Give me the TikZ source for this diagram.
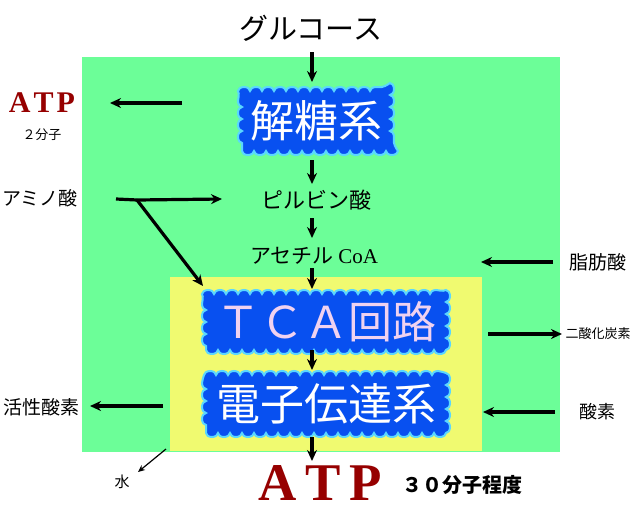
\documentclass[tikz,border=0pt]{standalone}
\usepackage{fontspec}
\setmainfont{Noto Sans CJK JP}
\newfontfamily\serifrm{Liberation Serif}
\usetikzlibrary{arrows.meta,decorations.pathmorphing}
\definecolor{cellgreen}{RGB}{108,254,152}
\definecolor{mitoyellow}{RGB}{240,250,112}
\definecolor{blobblue}{RGB}{8,80,240}
\definecolor{blobedge}{RGB}{90,215,255}
\definecolor{tcapink}{RGB}{240,210,240}
\definecolor{atpred}{RGB}{150,0,0}
\begin{document}
\begin{tikzpicture}[x=1pt, y=-1pt,
    flow/.style={-{Stealth[length=11pt,width=10pt]}, line width=3.2pt},
    thinflow/.style={-{Stealth[length=7pt,width=6pt]}, line width=1.2pt},
    blob/.style={draw=blobedge, line width=2pt, fill=blobblue, text=white,
      decorate, decoration={bumps, mirror, segment length=24pt, amplitude=4pt},
      inner sep=0pt, font=\fontsize{44}{44}\selectfont},
    label/.style={inner sep=0pt, font=\fontsize{19}{19}\selectfont},
    atp/.style={inner sep=0pt, text=atpred, font=\serifrm\bfseries}]
    \useasboundingbox (0,0) rectangle (640,512);
    \fill[white] (0,0) rectangle (640,512);
    % compartments
    \fill[cellgreen] (82,57) rectangle (560,452);
    \fill[mitoyellow] (170,277) rectangle (482,451);
    % main pathway
    \node[label, font=\fontsize{29}{29}\selectfont] (glc) at (311,28) {グルコース};
    \node[blob, minimum width=148pt, minimum height=60pt] (gly) at (316,121) {解糖系};
    \node[label, font=\fontsize{22}{22}\selectfont] (pyr) at (316,200) {ピルビン酸};
    \node[label, font=\fontsize{21}{21}\selectfont] (acoa) at (314,256) {アセチル {\serifrm CoA}};
    \node[blob, text=tcapink, minimum width=240pt, minimum height=56pt] (tca) at (326,322)
      {ＴＣＡ回路};
    \node[blob, minimum width=240pt, minimum height=58pt] (etc) at (326,404) {電子伝達系};
    \node[atp, font=\serifrm\bfseries\fontsize{53}{53}\selectfont] (atpbig) at (320,483)
      {A\hspace{9pt}T\hspace{9pt}P};
    \node[label, font=\bfseries\fontsize{20}{20}\selectfont, anchor=west] (atpnum) at (402,485) {３０分子程度};
    \draw[flow] (312,52) -- (312,82);
    \draw[flow] (312,160) -- (312,184);
    \draw[flow] (312,218) -- (312,238);
    \draw[flow] (312,268) -- (312,289);
    \draw[flow] (312,350) -- (312,370);
    \draw[flow] (312,437) -- (312,461);
    % glycolysis ATP
    \node[atp, font=\serifrm\bfseries\fontsize{30}{30}\selectfont] (atpsmall) at (42,103)
      {A\hspace{3pt}T\hspace{3pt}P};
    \node[label, font=\fontsize{13}{13}\selectfont] (atptwo) at (42,135) {２分子};
    \coordinate (atpfrom) at (182,103);
    \draw[flow] (atpfrom) -- (110,103);
    % amino acids
    \node[label] (amino) at (40,198) {アミノ酸};
    \coordinate (aminofork) at (137,200);
    \draw[line width=3.2pt] (116,199) -- (aminofork);
    \draw[flow] (aminofork) -- (222,199);
    \draw[flow] (aminofork) -- (203,286);
    % right side
    \node[label] (fatty) at (598,262) {脂肪酸};
    \draw[flow] (553,262) -- (481,262);
    \node[label, font=\fontsize{13}{13}\selectfont] (co2) at (598,334) {二酸化炭素};
    \draw[flow] (488,334) -- (562,334);
    \node[label, font=\fontsize{18}{18}\selectfont] (oxy) at (597,412) {酸素};
    \draw[flow] (555,412) -- (483,412);
    % left side
    \node[label] (ros) at (41,407) {活性酸素};
    \draw[flow] (163,406) -- (90,406);
    \node[label, font=\fontsize{15}{15}\selectfont] (water) at (122,482) {水};
    \draw[thinflow] (166,449) -- (138,472);
\end{tikzpicture}
\end{document}
